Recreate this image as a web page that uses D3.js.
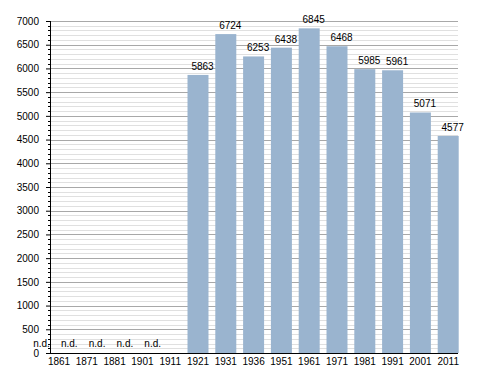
<!DOCTYPE html>
<html>
<head>
<meta charset="utf-8">
<script src="https://cdn.jsdelivr.net/npm/d3@7"></script>
<style>
  body { margin: 0; background: #fff; }
  text { font-family: "Liberation Sans", Arial, sans-serif; font-size: 10px; fill: #000; }
</style>
</head>
<body>
<div id="chart"></div>
<script>
// Data
let years = ['1861', '1871', '1881', '1901', '1911', '1921', '1931', '1936', '1951', '1961', '1971', '1981', '1991', '2001', '2011'];
let population = [null, null, null, null, null, 5863, 6724, 6253, 6438, 6845, 6468, 5985, 5961, 5071, 4577];
let yTicks = [0, 500, 1000, 1500, 2000, 2500, 3000, 3500, 4000, 4500, 5000, 5500, 6000, 6500, 7000];

let data = years.map(function(y, i) {
  return { year: y, value: population[i] };
});

let width = 488, height = 373;
let axisX = 50, plotRight = 458, plotTop = 21, plotBottom = 353;

let svg = d3.select('#chart')
  .append('svg')
  .attr('width', width)
  .attr('height', height);

// Scales
let yScale = d3.scaleLinear()
  .domain([0, 7000])
  .range([plotBottom, plotTop]);

let xScale = d3.scaleBand()
  .domain(years)
  .range([45.1, 462.1])
  .paddingInner(0.245)
  .paddingOuter(0.1225);

// Grid lines: minor every 100, major every 500
let minor = d3.range(100, 7001, 100).filter(function(v) { return v % 500 !== 0; });
svg.append('g')
  .selectAll('line')
  .data(minor)
  .enter()
  .append('line')
    .attr('x1', axisX)
    .attr('x2', plotRight)
    .attr('y1', function(d) { return Math.round(yScale(d)) + 0.5; })
    .attr('y2', function(d) { return Math.round(yScale(d)) + 0.5; })
    .attr('stroke', '#e0e0e0')
    .attr('stroke-width', 1);

svg.append('g')
  .selectAll('line')
  .data(yTicks.filter(function(v) { return v > 0; }))
  .enter()
  .append('line')
    .attr('x1', axisX)
    .attr('x2', plotRight)
    .attr('y1', function(d) { return Math.round(yScale(d)) + 0.5; })
    .attr('y2', function(d) { return Math.round(yScale(d)) + 0.5; })
    .attr('stroke', '#a8a8a8')
    .attr('stroke-width', 1);

// Bars
let shown = data.filter(function(d) { return d.value !== null; });
svg.append('g')
  .selectAll('rect')
  .data(shown)
  .enter()
  .append('rect')
    .attr('x', function(d) { return xScale(d.year); })
    .attr('y', function(d) { return yScale(d.value); })
    .attr('width', xScale.bandwidth())
    .attr('height', function(d) { return plotBottom - yScale(d.value); })
    .attr('fill', '#9ab4cf');

// Value labels
svg.append('g')
  .selectAll('text')
  .data(shown)
  .enter()
  .append('text')
    .attr('x', function(d) { return xScale(d.year) + xScale.bandwidth() / 2 + 4.5; })
    .attr('y', function(d) { return yScale(d.value) - 5; })
    .attr('text-anchor', 'middle')
    .text(function(d) { return d.value; });

// n.d. labels for missing years
svg.append('g')
  .selectAll('text')
  .data(data.filter(function(d) { return d.value === null; }))
  .enter()
  .append('text')
    .attr('x', function(d) { return xScale(d.year) + xScale.bandwidth() / 2 - 17.5; })
    .attr('y', 347)
    .attr('text-anchor', 'middle')
    .text('n.d.');

// Y axis
let yAxis = svg.append('g')
  .attr('transform', 'translate(' + axisX + ',0)')
  .call(d3.axisLeft(yScale).tickValues(yTicks).tickSize(4).tickPadding(7).tickFormat(d3.format('d')));
yAxis.select('.domain').attr('stroke', '#000').attr('d', 'M0.5,' + plotTop + 'V' + (plotBottom + 1));
yAxis.selectAll('.tick line').attr('stroke', '#000');
yAxis.selectAll('text').style('font-size', '10px').attr('fill', '#000');

// minor ticks on y axis
svg.append('g')
  .selectAll('line')
  .data(minor)
  .enter()
  .append('line')
    .attr('x1', axisX - 2)
    .attr('x2', axisX)
    .attr('y1', function(d) { return Math.round(yScale(d)) + 0.5; })
    .attr('y2', function(d) { return Math.round(yScale(d)) + 0.5; })
    .attr('stroke', '#000');

// X axis
let xAxis = svg.append('g')
  .attr('transform', 'translate(0,' + plotBottom + ')')
  .call(d3.axisBottom(xScale).tickSize(0).tickPadding(5));
xAxis.select('.domain').attr('stroke', '#000').attr('d', 'M' + axisX + ',0.5H' + plotRight);
xAxis.selectAll('text').style('font-size', '10px').attr('fill', '#000');
</script>
</body>
</html>
